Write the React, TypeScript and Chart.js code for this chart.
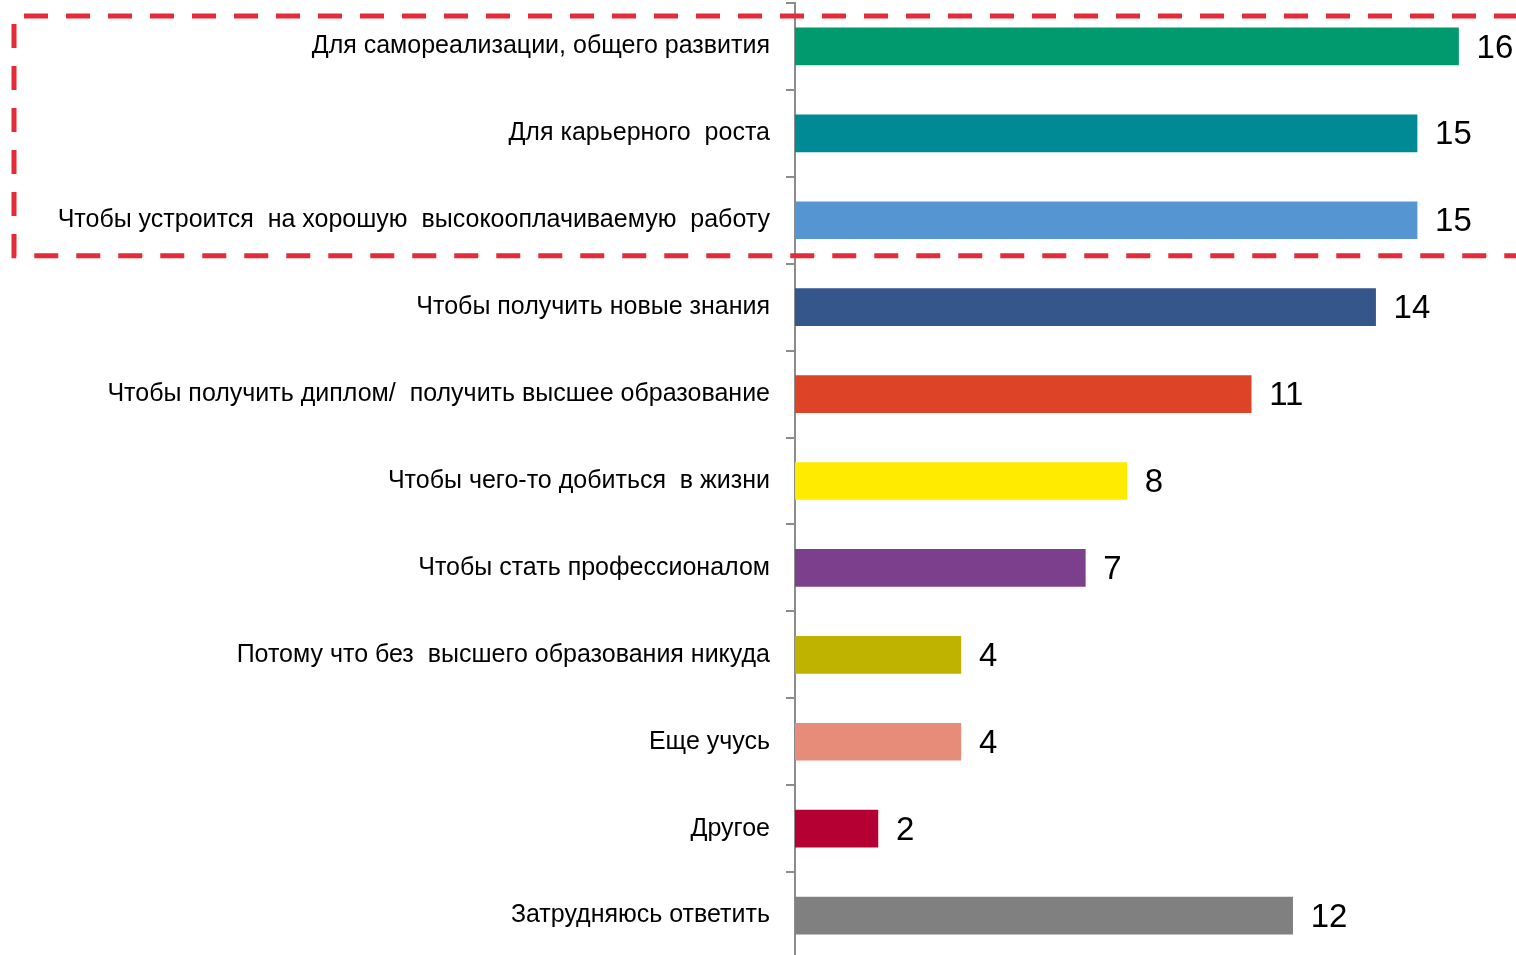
import { useEffect, useRef } from "react";
import { Chart, registerables } from "chart.js";

Chart.register(...registerables);

const categories = [
  "Для самореализации, общего развития",
  "Для карьерного  роста",
  "Чтобы устроится  на хорошую  высокооплачиваемую  работу",
  "Чтобы получить новые знания",
  "Чтобы получить диплом/  получить высшее образование",
  "Чтобы чего-то добиться  в жизни",
  "Чтобы стать профессионалом",
  "Потому что без  высшего образования никуда",
  "Еще учусь",
  "Другое",
  "Затрудняюсь ответить",
];

const values = [16, 15, 15, 14, 11, 8, 7, 4, 4, 2, 12];

const barColors = [
  "#009A6E",
  "#008A96",
  "#5596D2",
  "#34568A",
  "#DC4327",
  "#FFEB00",
  "#7B3F8C",
  "#BFB300",
  "#E88C7A",
  "#B40032",
  "#808080",
];

const AXIS_COLOR = "#8C8C8C";

const valueLabelPlugin = {
  id: "valueLabels",
  afterDatasetsDraw(chart: any) {
    const ctx = chart.ctx;
    const meta = chart.getDatasetMeta(0);
    ctx.save();
    ctx.font = "33px 'Liberation Sans', Arial, sans-serif";
    ctx.fillStyle = "#000";
    ctx.textAlign = "left";
    ctx.textBaseline = "middle";
    meta.data.forEach((bar: any, i: number) => {
      ctx.fillText(String(values[i]), bar.x + 18, bar.y + 2);
    });
    ctx.restore();
  },
};

const highlightBoxPlugin = {
  id: "highlightBox",
  afterDraw(chart: any) {
    const ctx = chart.ctx;
    const y = chart.scales.y;
    const top = chart.chartArea.top + 13;
    const bottom = y.getPixelForValue(2) + y.height / categories.length / 2 - 8;
    ctx.save();
    ctx.strokeStyle = "#E52B38";
    ctx.lineWidth = 5;
    ctx.setLineDash([24, 18]);
    ctx.beginPath();
    ctx.moveTo(1560, top);
    ctx.lineTo(14, top);
    ctx.lineTo(14, bottom);
    ctx.lineTo(1560, bottom);
    ctx.stroke();
    ctx.restore();
  },
};

export default function App() {
  const canvasRef = useRef<HTMLCanvasElement | null>(null);

  useEffect(() => {
    if (!canvasRef.current) return;
    const chart = new Chart(canvasRef.current, {
      type: "bar",
      data: {
        labels: categories,
        datasets: [
          {
            data: values,
            backgroundColor: barColors,
            borderWidth: 0,
            barThickness: 37,
          },
        ],
      },
      options: {
        indexAxis: "y",
        animation: false,
        responsive: false,
        devicePixelRatio: 1,
        layout: { padding: { top: 3, bottom: 6, left: 0, right: 16 } },
        plugins: {
          legend: { display: false },
          tooltip: { enabled: false },
        },
        scales: {
          x: {
            display: false,
            min: 0,
            max: 17,
          },
          y: {
            offset: true,
            border: { display: true, color: AXIS_COLOR, width: 2 },
            grid: {
              offset: true,
              drawOnChartArea: false,
              drawTicks: true,
              tickLength: 9,
              color: AXIS_COLOR,
              lineWidth: 2,
            },
            ticks: {
              color: "#000",
              padding: 16,
              font: { family: "'Liberation Sans', Arial, sans-serif", size: 25 },
            },
            afterFit(scale: any) {
              scale.width = 795;
              scale.paddingTop = 0;
              scale.paddingBottom = 0;
            },
          },
        },
      },
      plugins: [valueLabelPlugin, highlightBoxPlugin],
    });
    return () => chart.destroy();
  }, []);

  return (
    <div style={{ position: "fixed", left: 0, top: 0, width: 1516, height: 955, overflow: "hidden", background: "#fff" }}>
      <canvas ref={canvasRef} width={1516} height={965} />
    </div>
  );
}
